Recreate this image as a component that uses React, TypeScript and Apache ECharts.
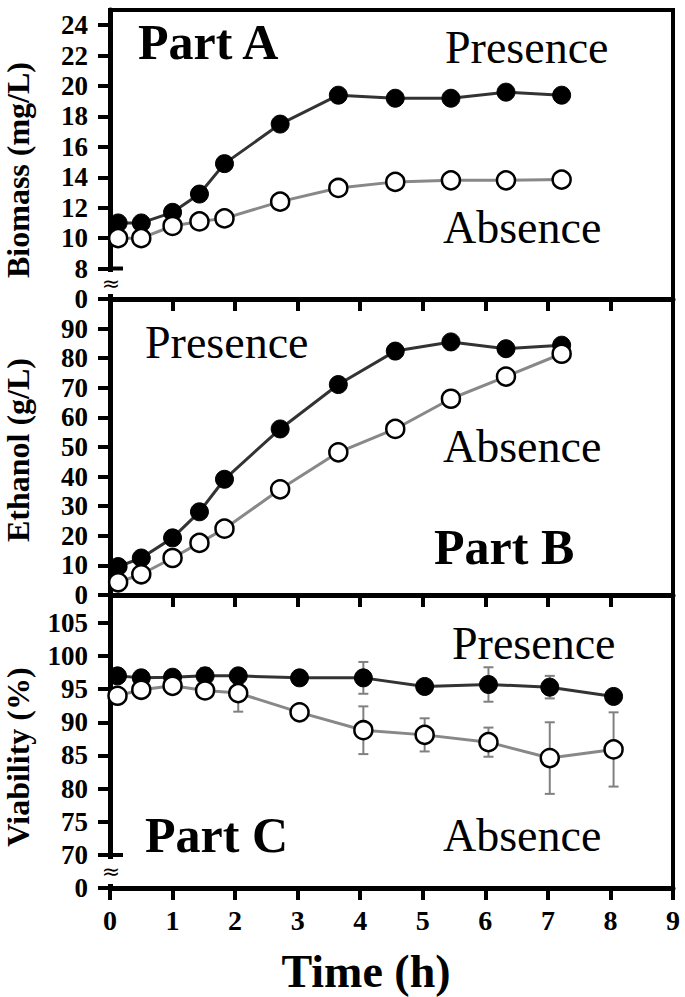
import React, { useEffect, useRef } from 'react';
import * as echarts from 'echarts';

// ---- data ----
const timeAB = [0.13, 0.5, 1.0, 1.43, 1.83, 2.72, 3.65, 4.56, 5.45, 6.33, 7.22];
const biomassPresence = [11.0, 11.0, 11.7, 12.9, 14.9, 17.5, 19.4, 19.2, 19.2, 19.6, 19.4];
const biomassAbsence = [10.0, 10.0, 10.8, 11.1, 11.3, 12.4, 13.3, 13.7, 13.8, 13.8, 13.85];
const ethanolPresence = [9.6, 12.5, 19.3, 28.1, 39.1, 56.1, 71.1, 82.4, 85.5, 83.2, 84.4];
const ethanolAbsence = [4.3, 7.0, 12.5, 17.6, 22.4, 35.7, 48.2, 56.1, 66.3, 73.8, 81.5];
const timeC = [0.12, 0.5, 1.0, 1.52, 2.05, 3.03, 4.05, 5.03, 6.05, 7.03, 8.05];
const viabilityPresence = [97.0, 96.7, 96.8, 97.0, 97.0, 96.7, 96.7, 95.4, 95.7, 95.3, 93.9];
const viabilityPresenceErr = [0, 0, 0, 1.2, 0, 0, 2.4, 0, 2.6, 1.7, 0];
const viabilityAbsence = [94.0, 94.9, 95.5, 94.8, 94.4, 91.5, 88.8, 88.1, 87.0, 84.6, 85.9];
const viabilityAbsenceErr = [0, 0, 0, 0, 2.8, 0, 3.6, 2.5, 2.2, 5.4, 5.6];

// ---- axis ticks ----
const xTickValues = [0, 1, 2, 3, 4, 5, 6, 7, 8, 9];
const biomassTickValues = [6, 8, 10, 12, 14, 16, 18, 20, 22, 24];
const biomassTickLabels = ['0', '8', '10', '12', '14', '16', '18', '20', '22', '24'];
const ethanolTickValues = [0, 10, 20, 30, 40, 50, 60, 70, 80, 90];
const ethanolTickLabels = ['0', '10', '20', '30', '40', '50', '60', '70', '80', '90'];
const viabilityTickValues = [65, 70, 75, 80, 85, 90, 95, 100, 105];
const viabilityTickLabels = ['0', '70', '75', '80', '85', '90', '95', '100', '105'];

const FONT = '"Liberation Serif", "Times New Roman", Times, serif';

function makeX(gridIndex: number, showLabel: boolean) {
  return {
    gridIndex,
    type: 'value',
    min: xTickValues[0],
    max: xTickValues[xTickValues.length - 1],
    interval: 1,
    axisLine: { show: true, onZero: false, lineStyle: { color: '#000', width: 5 } },
    axisTick: { show: true, inside: false, length: 12, lineStyle: { color: '#000', width: 4 } },
    axisLabel: {
      show: showLabel,
      margin: 18,
      fontSize: 28,
      fontWeight: 'bold',
      fontFamily: FONT,
      color: '#000',
    },
    splitLine: { show: false },
  };
}

function makeY(gridIndex: number, min: number, max: number, interval: number, vals: number[], labels: string[]) {
  return {
    gridIndex,
    type: 'value',
    min,
    max,
    interval,
    axisLine: { show: true, onZero: false, lineStyle: { color: '#000', width: 5 } },
    axisTick: {
      show: true,
      inside: false,
      length: 12,
      customValues: vals,
      lineStyle: { color: '#000', width: 4 },
    },
    axisLabel: {
      customValues: vals,
      margin: 22,
      fontSize: 27,
      fontWeight: 'bold',
      fontFamily: FONT,
      color: '#000',
      formatter: (v: number) => {
        const i = vals.indexOf(v);
        return i >= 0 ? labels[i] : '';
      },
    },
    splitLine: { show: false },
  };
}

function presenceSeries(xi: number, t: number[], v: number[]) {
  return {
    type: 'line',
    xAxisIndex: xi,
    yAxisIndex: xi,
    data: t.map((x, i) => [x, v[i]]),
    symbol: 'circle',
    symbolSize: 18,
    itemStyle: { color: '#000', borderColor: '#000', borderWidth: 1 },
    lineStyle: { color: '#333', width: 3 },
    z: 3,
  };
}

function absenceSeries(xi: number, t: number[], v: number[]) {
  return {
    type: 'line',
    xAxisIndex: xi,
    yAxisIndex: xi,
    data: t.map((x, i) => [x, v[i]]),
    symbol: 'circle',
    symbolSize: 18,
    itemStyle: { color: '#fff', borderColor: '#000', borderWidth: 2.5 },
    lineStyle: { color: '#888', width: 3 },
    z: 4,
  };
}

function errorSeries(t: number[], v: number[], e: number[]) {
  const data = t
    .map((x, i) => [x, v[i] - e[i], v[i] + e[i], e[i]])
    .filter((d) => d[3] > 0);
  return {
    type: 'custom',
    xAxisIndex: 2,
    yAxisIndex: 2,
    z: 2,
    data,
    encode: { x: 0, y: [1, 2] },
    renderItem: (_p: any, api: any) => {
      const x = api.value(0);
      const top = api.coord([x, api.value(2)]);
      const bot = api.coord([x, api.value(1)]);
      const w = 5;
      const style = { stroke: '#808080', lineWidth: 2 };
      return {
        type: 'group',
        children: [
          { type: 'line', shape: { x1: top[0], y1: top[1], x2: bot[0], y2: bot[1] }, style },
          { type: 'line', shape: { x1: top[0] - w, y1: top[1], x2: top[0] + w, y2: top[1] }, style },
          { type: 'line', shape: { x1: bot[0] - w, y1: bot[1], x2: bot[0] + w, y2: bot[1] }, style },
        ],
      };
    },
  };
}

function label(text: string, x: number, y: number, size: number, weight: string, align = 'left') {
  return {
    type: 'text',
    x,
    y,
    z: 100,
    style: {
      text,
      fontSize: size,
      fontWeight: weight,
      fontFamily: FONT,
      fill: '#000',
      align,
      verticalAlign: 'middle',
    },
  };
}

function vlabel(text: string, x: number, y: number) {
  return {
    type: 'text',
    x,
    y,
    rotation: Math.PI / 2,
    z: 100,
    style: {
      text,
      fontSize: 32,
      fontWeight: 'bold',
      fontFamily: FONT,
      fill: '#000',
      align: 'center',
      verticalAlign: 'middle',
    },
  };
}

function axisBreak(yStub: number, yTop: number, yBot: number) {
  return [
    { type: 'rect', z: 100, shape: { x: 104, y: yTop, width: 13, height: yBot - yTop }, style: { fill: '#fff' } },
    { type: 'line', z: 100, shape: { x1: 108, y1: yStub, x2: 123, y2: yStub }, style: { stroke: '#000', lineWidth: 4 } },
    {
      type: 'text',
      z: 101,
      x: 111,
      y: (yTop + yBot) / 2,
      style: {
        text: '≈',
        fontSize: 22,
        fontFamily: '"DejaVu Sans", sans-serif',
        fill: '#000',
        align: 'center',
        verticalAlign: 'middle',
      },
    },
  ];
}

export default function App() {
  const ref = useRef<HTMLDivElement>(null);

  useEffect(() => {
    document.body.style.margin = '0';
    if (!ref.current) return;
    const chart = echarts.init(ref.current, undefined, { renderer: 'svg' });
    const gridBase = { left: 110, right: 12, show: true, borderColor: '#000', borderWidth: 4, backgroundColor: 'transparent' };
    chart.setOption({
      animation: false,
      backgroundColor: '#fff',
      grid: [
        { ...gridBase, top: 10, height: 289 },
        { ...gridBase, top: 299, height: 296 },
        { ...gridBase, top: 595, height: 293 },
      ],
      xAxis: [makeX(0, false), makeX(1, false), makeX(2, true)],
      yAxis: [
        makeY(0, 6, 25, 2, biomassTickValues, biomassTickLabels),
        makeY(1, 0, 100, 10, ethanolTickValues, ethanolTickLabels),
        makeY(2, 65, 109.2, 5, viabilityTickValues, viabilityTickLabels),
      ],
      series: [
        presenceSeries(0, timeAB, biomassPresence),
        absenceSeries(0, timeAB, biomassAbsence),
        presenceSeries(1, timeAB, ethanolPresence),
        absenceSeries(1, timeAB, ethanolAbsence),
        errorSeries(timeC, viabilityPresence, viabilityPresenceErr),
        errorSeries(timeC, viabilityAbsence, viabilityAbsenceErr),
        presenceSeries(2, timeC, viabilityPresence),
        absenceSeries(2, timeC, viabilityAbsence),
      ],
      graphic: [
        label('Part A', 138, 42, 50, 'bold'),
        label('Presence', 445, 47, 46, 'normal'),
        label('Absence', 443, 227, 46, 'normal'),
        label('Presence', 145, 342, 46, 'normal'),
        label('Absence', 443, 446, 46, 'normal'),
        label('Part B', 434, 547, 50, 'bold'),
        label('Presence', 452, 643, 46, 'normal'),
        label('Part C', 145, 835, 50, 'bold'),
        label('Absence', 443, 835, 46, 'normal'),
        label('Time (h)', 366, 971, 46, 'bold', 'center'),
        vlabel('Biomass (mg/L)', 18, 170),
        vlabel('Ethanol (g/L)', 18, 450),
        vlabel('Viability (%)', 18, 757),
        ...axisBreak(268.5, 272, 294),
        ...axisBreak(855, 859, 884),
      ],
    });
    return () => chart.dispose();
  }, []);

  return <div ref={ref} style={{ width: 685, height: 997 }} />;
}
